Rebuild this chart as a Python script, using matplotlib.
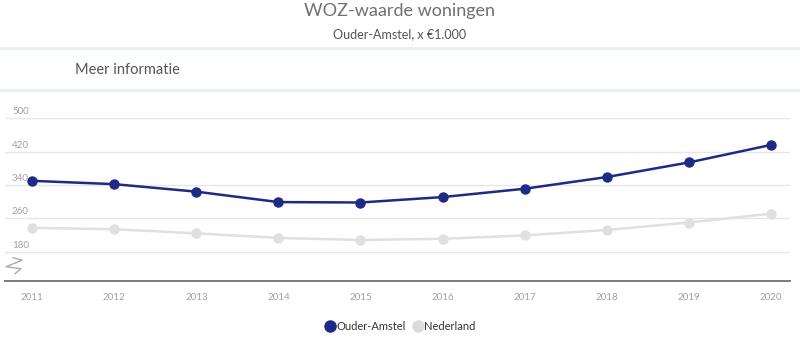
import matplotlib
matplotlib.use("Agg")
import matplotlib.pyplot as plt
from matplotlib.lines import Line2D

years = ["2011", "2012", "2013", "2014", "2015", "2016", "2017", "2018", "2019", "2020"]
ouder_amstel = [350, 342, 324, 299, 298, 311, 331, 359, 394, 436]
nederland = [237, 234, 224, 213, 208, 211, 219, 232, 250, 271]
y_ticks = [180, 260, 340, 420, 500]

title = "WOZ-waarde woningen"
subtitle = "Ouder-Amstel, x €1.000"
info = "Meer informatie"

plt.rcParams['font.family'] = ['Lato', 'DejaVu Sans']

W, H = 800, 346
fig = plt.figure(figsize=(W / 100, H / 100), dpi=100)

def fy(px):
    return 1 - px / H

# header
fig.text(0.5, fy(11), title, ha='center', va='center', fontsize=13, color='#707070')
fig.text(0.5, fy(34), subtitle, ha='center', va='center', fontsize=9, color='#555555')
fig.text(75 / W, fy(70), info, ha='left', va='center', fontsize=10.5, color='#555555')
for yy in (48, 90):
    fig.add_artist(Line2D([0, 1], [fy(yy), fy(yy)], transform=fig.transFigure,
                          color='#e3f1f1', lw=2))

# axes
ax_bottom, ax_top = 280.7, 118.3
ax = fig.add_axes([5 / W, fy(ax_bottom), 785 / W, (ax_bottom - ax_top) / H])
x = list(range(len(years)))
ax.set_xlim(-0.333, 9.235)
ax.set_ylim(110.4, 500)

for t in y_ticks:
    ax.axhline(t, color='#e6e6e6', lw=1, zorder=0)
    ax.text(7 / 785, t + 5, str(t), transform=ax.get_yaxis_transform(), ha='left',
            va='bottom', fontsize=7, color='#a0a0a0')

ax.plot(x, nederland, color='#e0e0e0', lw=1.8, marker='o', ms=6.5, zorder=2)
ax.plot(x, ouder_amstel, color='#1f2a85', lw=1.8, marker='o', ms=6.5, zorder=3)

for s in ['top', 'right', 'left']:
    ax.spines[s].set_visible(False)
ax.spines['bottom'].set_color('#707070')
ax.spines['bottom'].set_linewidth(1.3)
ax.set_yticks([])
ax.set_xticks(x)
ax.set_xticklabels(years, fontsize=7, color='#a0a0a0')
ax.tick_params(axis='x', length=0, pad=9)

# axis break symbol
bx = [13, 22, 6, 21, 15]
by = [257.7, 260.3, 266.7, 268.7, 273.7]
fig.add_artist(Line2D([v / W for v in bx], [fy(v) for v in by], transform=fig.transFigure,
                      color='#aaaaaa', lw=1))

# legend
handles = [Line2D([], [], marker='o', color='none', markerfacecolor='#1f2a85',
                  markeredgecolor='#1f2a85', ms=8, label='Ouder-Amstel'),
           Line2D([], [], marker='o', color='none', markerfacecolor='#dcdcdc',
                  markeredgecolor='#dcdcdc', ms=8, label='Nederland')]
leg = fig.legend(handles=handles, loc='center', bbox_to_anchor=(0.5, fy(326)), ncol=2,
                 frameon=False, fontsize=8, handletextpad=0.05, columnspacing=0.6,
                 handlelength=1.0)
for t in leg.get_texts():
    t.set_color('#333333')

fig.savefig('out.png', dpi=100)
